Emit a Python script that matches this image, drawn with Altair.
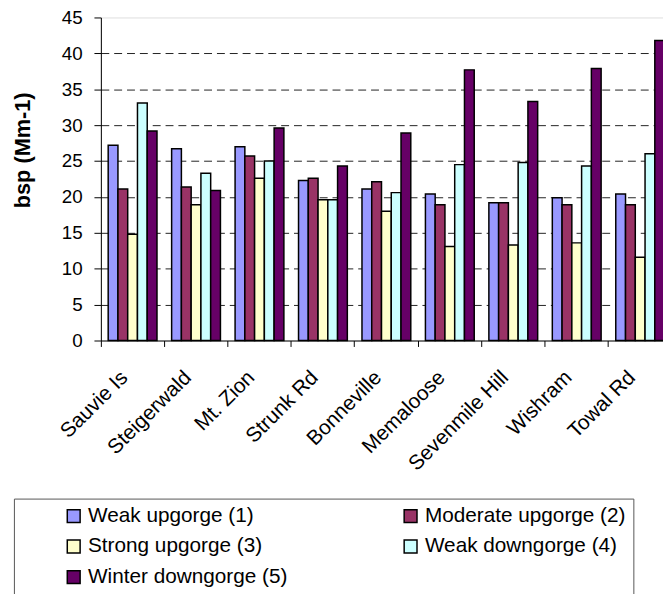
import altair as alt
import pandas as pd

sites = ["Sauvie Is", "Steigerwald", "Mt. Zion", "Strunk Rd", "Bonneville",
         "Memaloose", "Sevenmile Hill", "Wishram", "Towal Rd"]
series = ["Weak upgorge (1)", "Moderate upgorge (2)", "Strong upgorge (3)",
          "Weak downgorge (4)", "Winter downgorge (5)"]
weak_up = [27.2, 26.7, 27.0, 22.3, 21.1, 20.4, 19.2, 19.9, 20.4]
moderate_up = [21.1, 21.4, 25.7, 22.6, 22.1, 18.9, 19.2, 18.9, 18.9]
strong_up = [14.8, 18.9, 22.6, 19.6, 18.0, 13.1, 13.3, 13.6, 11.6]
weak_down = [33.1, 23.3, 25.0, 19.6, 20.6, 24.5, 24.8, 24.3, 26.0]
winter_down = [29.2, 20.9, 29.6, 24.3, 28.9, 37.7, 33.3, 37.9, 41.8]
colors = ["#9999FF", "#993366", "#FFFFCC", "#CCFFFF", "#660066"]
y_ticks = [0, 5, 10, 15, 20, 25, 30, 35, 40, 45]

rows = []
for s_name, vals in zip(series, [weak_up, moderate_up, strong_up, weak_down, winter_down]):
    for site, v in zip(sites, vals):
        rows.append({"site": site, "series": s_name, "value": v})
df = pd.DataFrame(rows)

FONT = "Liberation Sans"

chart = alt.Chart(df).mark_bar(stroke="black", strokeWidth=1.5).encode(
    x=alt.X("site:N", sort=sites, title=None,
            scale=alt.Scale(paddingInner=0, paddingOuter=0),
            axis=alt.Axis(bandPosition=0, labelAngle=-45, labelAlign="right",
                          labelBaseline="middle", labelOffset=-8, labelPadding=28,
                          tickSize=6, tickColor="black", domainColor="black",
                          labelFontSize=21, labelColor="black", labelFont=FONT,
                          grid=False, labelLimit=300)),
    xOffset=alt.XOffset("series:N", sort=series,
                        scale=alt.Scale(paddingInner=0, paddingOuter=0.75)),
    y=alt.Y("value:Q", scale=alt.Scale(domain=[0, 45], nice=False),
            title="bsp (Mm-1)",
            axis=alt.Axis(values=y_ticks, tickSize=7, tickColor="black",
                          domainColor="black", labelFontSize=19, labelColor="black",
                          labelFont=FONT, labelPadding=12,
                          titleFontSize=22, titleFont=FONT, titleFontWeight="bold",
                          titleColor="black", titlePadding=27, titleY=134,
                          gridColor="#222222", gridDash=[8, 5],
                          gridOpacity={"condition": {"test": "datum.value >= 45 || datum.value <= 0", "value": 0}, "value": 1})),
    color=alt.Color("series:N", sort=series,
                    scale=alt.Scale(domain=series, range=colors),
                    legend=alt.Legend(title=None, orient="none", legendX=-88, legendY=487,
                                      columns=2, direction="horizontal", padding=7,
                                      strokeColor="#555555",
                                      fillColor="white", symbolType="square",
                                      symbolSize=169, symbolStrokeColor="black",
                                      symbolStrokeWidth=1.5, symbolOffset=43,
                                      labelOffset=4,
                                      labelFontSize=21, labelFont=FONT, labelColor="black",
                                      labelLimit=400, rowPadding=9, columnPadding=71)),
).properties(
    width=578, height=327,
    padding={"left": 94, "top": 6, "right": -9, "bottom": 253},
    autosize=alt.AutoSizeParams(type="none"),
).configure_view(
    fill="#C0C0C0", stroke="#808080", strokeWidth=1
).configure(font=FONT)

chart.save("out.html", embed_options={"renderer": "svg", "actions": False})
